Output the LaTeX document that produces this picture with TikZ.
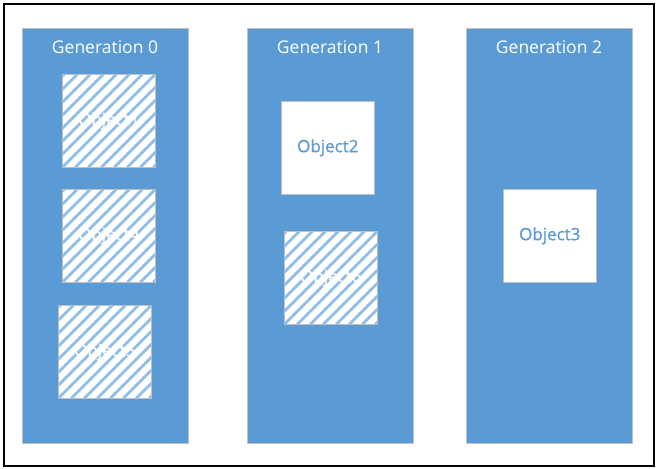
\documentclass[tikz,border=0pt]{standalone}
\usepackage{fontspec}
\setmainfont{Open Sans}
\newfontfamily\objfont[FakeBold=0.8]{Open Sans}
\definecolor{genblue}{HTML}{5B9BD5}
\definecolor{stripeblue}{HTML}{92BFE8}
\definecolor{edgegray}{HTML}{BFBFBF}
\begin{document}
\begin{tikzpicture}[x=1pt,y=-1pt,
  gencol/.style={draw=edgegray,line width=0.8pt,fill=genblue,minimum width=166pt,minimum height=415pt,anchor=north west,inner sep=0pt},
  gentitle/.style={text=white,font=\fontsize{17.5}{20}\selectfont,anchor=center},
  liveobj/.style={draw=edgegray,line width=0.6pt,fill=white,minimum width=93pt,minimum height=93pt,anchor=north west,inner sep=0pt},
  deadobj/.style={draw=edgegray,line width=0.6pt,fill=white,minimum width=93pt,minimum height=93pt,anchor=north west,inner sep=0pt,
    path picture={\foreach \k in {-12,...,12}{\draw[stripeblue,line width=2.8pt]
      ([xshift=\k*13pt]path picture bounding box.south west) -- ++(110pt,110pt);}}},
  objtext/.style={text=genblue,font=\objfont\fontsize{17}{20}\selectfont},
  deadtext/.style={text=white,font=\objfont\fontsize{17}{20}\selectfont}]
\useasboundingbox (0,0) rectangle (657,469);
\fill[white] (0,0) rectangle (657,469);
\draw[black,line width=2pt] (4,4) rectangle (654,466);
% columns
\node[gencol] (g0) at (22,28) {};
\node[gencol] (g1) at (247,28) {};
\node[gencol] (g2) at (466,28) {};
\node[gentitle] (t0) at (105,47) {Generation 0};
\node[gentitle] (t1) at (330,47) {Generation 1};
\node[gentitle] (t2) at (549,47) {Generation 2};
% generation 0 objects
\node[deadobj] (o1) at (62,74) {};
\node[deadtext] at (o1.center) {Object1};
\node[deadobj] (o4) at (62,189) {};
\node[deadtext] at (o4.center) {Object4};
\node[deadobj] (o5) at (58,305) {};
\node[deadtext] at (o5.center) {Object5};
% generation 1 objects
\node[liveobj] (o2) at (281,101) {};
\node[objtext] at (o2.center) {Object2};
\node[deadobj] (o6) at (284,231) {};
\node[deadtext] at (o6.center) {Object6};
% generation 2 objects
\node[liveobj] (o3) at (503,189) {};
\node[objtext] at (o3.center) {Object3};
\end{tikzpicture}
\end{document}
